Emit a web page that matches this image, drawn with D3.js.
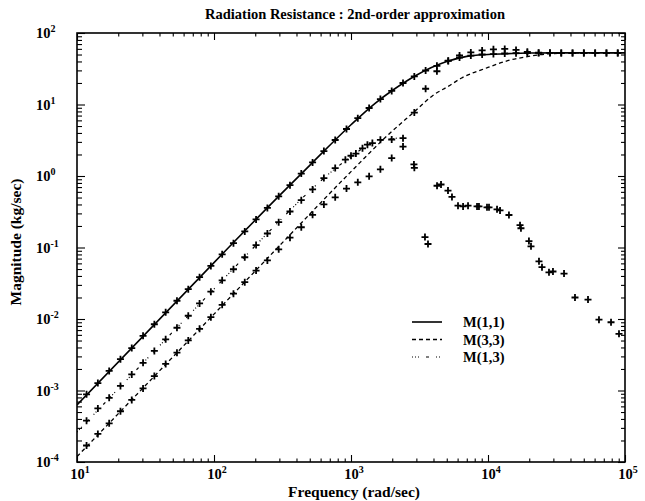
<!DOCTYPE html>
<html>
<head>
<meta charset="utf-8">
<script src="https://cdn.jsdelivr.net/npm/d3@7"></script>
<style>
  html, body { margin: 0; padding: 0; background: #fff; }
  svg text { font-family: "Liberation Serif", "DejaVu Serif", serif; fill: #000; }
</style>
</head>
<body>
<svg id="chart" width="645" height="501"></svg>
<script>
// Measured frequency grid (rad/sec) shared by M(1,1) and M(3,3)
const freqGrid = [11.74, 14.20, 17.17, 20.76, 25.10, 30.35, 36.70, 44.38, 53.66, 64.89,
  78.46, 94.88, 114.7, 138.7, 167.7, 202.8, 245.3, 296.6, 358.6, 433.6,
  524.3, 634.0, 766.7, 927.1, 1121, 1356, 1639, 1982, 2397, 2898,
  3505, 4238, 5124, 6196, 7493, 9060, 10956, 13248, 16019, 19370,
  23423, 28323, 34248, 41413, 50077, 60553, 73221, 88540];

// Measured M(1,1) (kg/sec)
const m11Data = [8.83e-4, 1.27e-3, 1.88e-3, 2.74e-3, 3.92e-3, 5.82e-3, 8.44e-3, 1.24e-2, 1.80e-2, 2.61e-2,
  3.84e-2, 5.53e-2, 8.02e-2, 0.115, 0.168, 0.247, 0.358, 0.520, 0.745, 1.08,
  1.55, 2.23, 3.19, 4.54, 6.44, 8.94, 11.9, 15.5, 20.0, 24.7,
  29.9, 34.7, 40.7, 45.4, 48.3, 50.0, 50.8, 51.7, 52.2, 52.5,
  52.6, 52.6, 52.7, 52.7, 52.7, 52.7, 52.7, 52.7];

// Measured M(3,3) (kg/sec)
const m33Data = [1.70e-4, 2.47e-4, 3.47e-4, 5.13e-4, 7.38e-4, 1.07e-3, 1.59e-3, 2.35e-3, 3.38e-3, 5.02e-3,
  7.29e-3, 1.06e-2, 1.58e-2, 2.26e-2, 3.27e-2, 4.75e-2, 6.59e-2, 9.44e-2, 0.137, 0.192,
  0.286, 0.401, 0.503, 0.667, 0.816, 0.990, 1.24, 1.78, 2.58, 7.71,
  16.6, 29.2, 41.0, 48.5, 53.5, 57.0, 59.2, 59.8, 58.0, 54.5,
  53.0, 52.8, 52.7, 52.7, 52.7, 52.7, 52.7, 52.7];

// Measured M(1,3): frequencies and magnitudes
const m13Freq = [11.74, 14.20, 17.17, 20.76, 25.10, 30.35, 36.70, 44.38, 53.66, 64.89,
  78.46, 94.88, 114.7, 138.7, 167.7, 202.8, 245.3, 296.6, 358.6, 433.6,
  524.3, 634.0, 766.7, 910, 1000, 1086, 1213, 1318, 1432, 1639,
  1982, 2397, 2880, 2900, 3467, 3648, 4246, 4540, 5105, 5458,
  6040, 6577, 7149, 8318, 8590, 9834, 10170, 11640, 12240, 14220,
  17130, 17400, 19900, 20600, 23560, 24780, 27870, 29800, 35890, 43150,
  53700, 64570, 79070, 90400];
const m13Data = [3.79e-4, 5.62e-4, 7.89e-4, 1.16e-3, 1.68e-3, 2.44e-3, 3.58e-3, 5.20e-3, 7.55e-3, 1.11e-2,
  1.65e-2, 2.41e-2, 3.48e-2, 4.96e-2, 7.30e-2, 0.108, 0.157, 0.226, 0.319, 0.459,
  0.648, 0.935, 1.29, 1.69, 1.92, 2.06, 2.44, 2.74, 2.89, 3.21,
  3.24, 3.38, 1.45, 1.30, 0.140, 0.112, 0.730, 0.760, 0.625, 0.510,
  0.385, 0.375, 0.385, 0.375, 0.375, 0.365, 0.365, 0.342, 0.330, 0.285,
  0.205, 0.186, 0.123, 0.104, 0.0640, 0.0530, 0.0450, 0.0462, 0.0432, 0.0200,
  0.0187, 9.8e-3, 9.0e-3, 6.2e-3];

// Second-order approximation curves
const fitFreq11 = [10, 100, 300, 500, 1000, 1500, 2000, 3000, 5000, 7000, 10000, 15000, 20000, 50000, 100000];
const fit11 = [6.3e-4, 0.0615, 0.531, 1.41, 5.21, 10.4, 15.7, 25.7, 39.8, 47.1, 50.1, 51.6, 52.4, 52.7, 52.7];

const fitFreq33 = [10, 100, 316, 1000, 1888, 2780, 4093, 5093, 6368, 9886, 14555, 20277, 28249, 43652, 100000];
const fit33 = [1.19e-4, 0.0117, 0.117, 1.15, 3.84, 7.38, 14.0, 17.8, 23.3, 32.7, 41.9, 47.4, 51.3, 52.7, 53.1];

const fitFreq13 = [10, 100, 300, 500, 700, 1000, 1300, 1700, 2200];
const fit13 = [2.63e-4, 0.0263, 0.234, 0.617, 1.10, 1.86, 2.63, 3.16, 3.39];

const xTickPowers = [1, 2, 3, 4, 5];
const yTickPowers = [-4, -3, -2, -1, 0, 1, 2];

const seriesNames = ["M(1,1)", "M(3,3)", "M(1,3)"];

const svg = d3.select("#chart");
const plot = { left: 77, right: 625, top: 33, bottom: 462 };

const x = d3.scaleLog().domain([10, 1e5]).range([plot.left, plot.right]);
const y = d3.scaleLog().domain([1e-4, 1e2]).range([plot.bottom, plot.top]);

// Tick positions: decades and 2..9 within each decade
const isDecade = v => Math.abs(Math.log10(v) - Math.round(Math.log10(v))) < 1e-6;
const xMinor = x.ticks().filter(v => !isDecade(v));
const xMajor = xTickPowers.map(p => Math.pow(10, p));
const yMinor = y.ticks().filter(v => !isDecade(v));
const yMajor = yTickPowers.map(p => Math.pow(10, p));

function tickAxis(gen, vals, size, tx, ty) {
  const g = svg.append("g").attr("transform", `translate(${tx},${ty})`)
    .call(gen.tickValues(vals).tickSize(size).tickSizeOuter(0).tickFormat(""));
  g.select(".domain").remove();
  g.selectAll("line").attr("stroke", "#000").attr("stroke-width", 1.1);
}
tickAxis(d3.axisBottom(x), xMinor, -3.5, 0, plot.bottom);
tickAxis(d3.axisBottom(x), xMajor, -7, 0, plot.bottom);
tickAxis(d3.axisTop(x), xMinor, -3.5, 0, plot.top);
tickAxis(d3.axisTop(x), xMajor, -7, 0, plot.top);
tickAxis(d3.axisLeft(y), yMinor, -5, plot.left, 0);
tickAxis(d3.axisLeft(y), yMajor, -8, plot.left, 0);
tickAxis(d3.axisRight(y), yMinor, -4, plot.right, 0);
tickAxis(d3.axisRight(y), yMajor, -7, plot.right, 0);

// Frame
svg.append("rect")
  .attr("x", plot.left).attr("y", plot.top)
  .attr("width", plot.right - plot.left).attr("height", plot.bottom - plot.top)
  .attr("fill", "none").attr("stroke", "#000").attr("stroke-width", 1.6);

// Tick labels as 10 with a superscript exponent
function powLabel(sel, p) {
  sel.append("tspan").text("10");
  sel.append("tspan").attr("dy", -6).attr("font-size", 10).text(p);
}
xTickPowers.forEach(p => {
  const t = svg.append("text")
    .attr("x", x(Math.pow(10, p)) + 3).attr("y", 479)
    .attr("text-anchor", "middle").attr("font-size", 14.5).attr("font-weight", "bold");
  powLabel(t, p);
});
yTickPowers.forEach(p => {
  const t = svg.append("text")
    .attr("x", 36).attr("y", y(Math.pow(10, p)) + 5)
    .attr("font-size", 14.5).attr("font-weight", "bold");
  powLabel(t, p);
});

// Titles
svg.append("text").attr("x", 355).attr("y", 19).attr("text-anchor", "middle")
  .attr("font-size", 14.5).attr("font-weight", "bold")
  .text("Radiation Resistance : 2nd-order approximation");
svg.append("text").attr("x", 354).attr("y", 497).attr("text-anchor", "middle")
  .attr("font-size", 15.5).attr("font-weight", "bold")
  .text("Frequency (rad/sec)");
svg.append("text").attr("transform", "translate(21,242) rotate(-90)").attr("text-anchor", "middle")
  .attr("font-size", 15.5).attr("font-weight", "bold")
  .text("Magnitude (kg/sec)");

// Fit curves
const line = d3.line().x(d => x(d[0])).y(d => y(d[1])).curve(d3.curveMonotoneX);
svg.append("clipPath").attr("id", "plotclip").append("rect")
  .attr("x", plot.left).attr("y", plot.top)
  .attr("width", plot.right - plot.left).attr("height", plot.bottom - plot.top);
const curves = svg.append("g").attr("clip-path", "url(#plotclip)");

const styles = [
  { dash: null, width: 1.6 },
  { dash: "4,3", width: 1.3 },
  { dash: "1,2,1,2,1,7,3,7", width: 1.2 }
];
const fits = [
  d3.zip(fitFreq11, fit11),
  d3.zip(fitFreq33, fit33),
  d3.zip(fitFreq13, fit13)
];
fits.forEach((pts, i) => {
  curves.append("path").datum(pts).attr("d", line)
    .attr("fill", "none").attr("stroke", "#000")
    .attr("stroke-width", styles[i].width)
    .attr("stroke-dasharray", styles[i].dash);
});

// Measured points as plus markers
const plus = "M-3.5,0H3.5M0,-3.5V3.5";
const measured = [
  d3.zip(freqGrid, m11Data),
  d3.zip(freqGrid, m33Data),
  d3.zip(m13Freq, m13Data)
];
measured.forEach(pts => {
  curves.append("g").selectAll("path").data(pts).join("path")
    .attr("d", plus)
    .attr("transform", d => `translate(${x(d[0])},${y(d[1])})`)
    .attr("stroke", "#000").attr("stroke-width", 1.8).attr("fill", "none");
});

// Legend
const legend = svg.append("g");
seriesNames.forEach((name, i) => {
  const ly = 322 + i * 17.5;
  legend.append("line").attr("x1", 412).attr("x2", 442).attr("y1", ly).attr("y2", ly)
    .attr("stroke", "#000").attr("stroke-width", styles[i].width)
    .attr("stroke-dasharray", styles[i].dash);
  legend.append("text").attr("x", 463).attr("y", ly + 5)
    .attr("font-size", 14.5).attr("font-weight", "bold").text(name);
});
</script>
</body>
</html>
